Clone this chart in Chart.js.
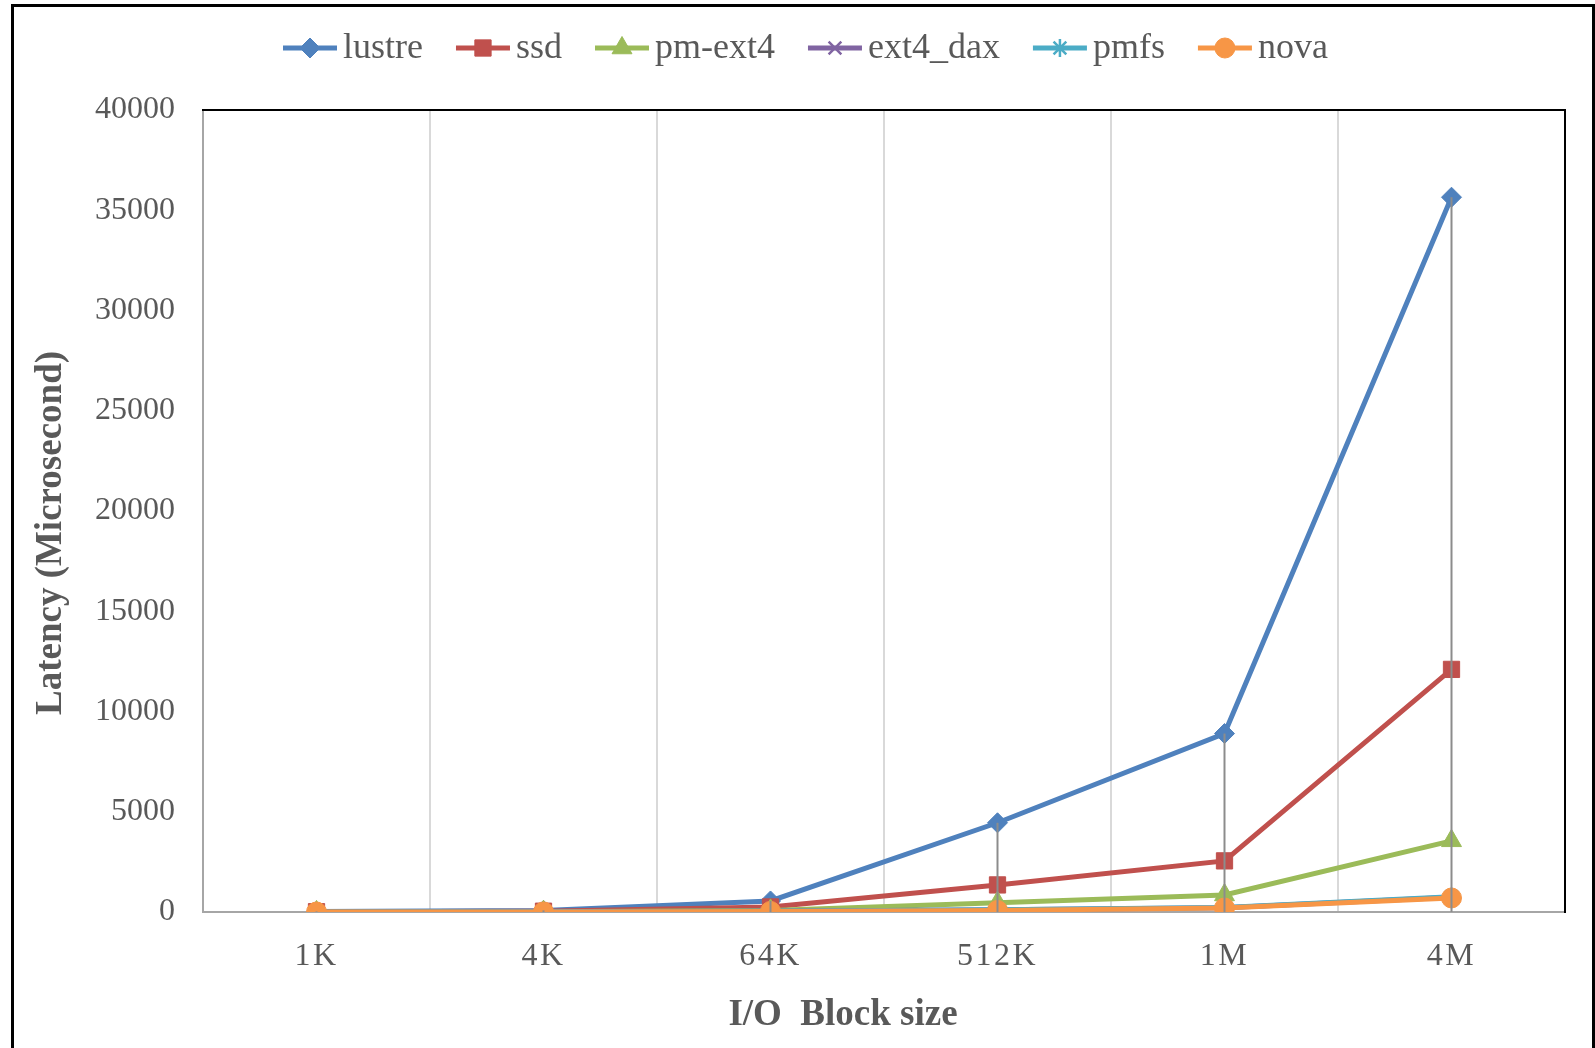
<!DOCTYPE html>
<html>
<head>
<meta charset="utf-8">
<script src="https://cdn.jsdelivr.net/npm/chart.js@4.4.1/dist/chart.umd.min.js"></script>
<style>
  html, body { margin: 0; padding: 0; background: #ffffff; }
  #wrap { width: 1595px; height: 1048px; position: relative; }
</style>
</head>
<body>
<div id="wrap"><canvas id="c" width="1595" height="1048"></canvas></div>
<script>
// Block sizes on the x axis
const categories = ['1K', '4K', '64K', '512K', '1M', '4M'];

// Latency (microseconds) per file system
const lustre  = [30, 80, 550, 4450, 8900, 35650];
const ssd     = [15, 40, 250, 1350, 2550, 12100];
const pmExt4  = [5, 12, 80, 465, 850, 3550];
const ext4Dax = [3, 8, 40, 110, 210, 740];
const pmfs    = [3, 8, 40, 110, 220, 760];
const nova    = [2, 6, 30, 80, 200, 700];

// Y axis tick values
const yTicks = [0, 5000, 10000, 15000, 20000, 25000, 30000, 35000, 40000];

const seriesNames = ['lustre', 'ssd', 'pm-ext4', 'ext4_dax', 'pmfs', 'nova'];
const seriesData = [lustre, ssd, pmExt4, ext4Dax, pmfs, nova];
const seriesColors = ['#4F81BD', '#C0504D', '#9BBB59', '#8064A2', '#4BACC6', '#F79646'];
const seriesMarkers = ['rectRot', 'rect', 'triangle', 'crossRot', 'star', 'circle'];
const seriesRadius = [10, 11.5, 11.5, 9, 9, 10];

const TEXT = '#595959';
const SERIF = '"Liberation Serif", "Times New Roman", serif';

const datasets = seriesNames.map((name, i) => ({
  label: name,
  data: seriesData[i],
  borderColor: seriesColors[i],
  backgroundColor: seriesColors[i],
  pointBackgroundColor: seriesColors[i],
  pointBorderColor: seriesColors[i],
  pointBorderWidth: (seriesMarkers[i] === 'crossRot' || seriesMarkers[i] === 'star') ? 2.5 : 1,
  pointStyle: seriesMarkers[i],
  pointRadius: seriesRadius[i],
  borderWidth: 5,
  tension: 0,
  order: seriesNames.length - i   // later series are painted on top
}));

const drawPoint = (Chart.helpers && Chart.helpers.drawPoint) ? Chart.helpers.drawPoint : null;

// Outer frame, white background, black top/right plot edges
const framePlugin = {
  id: 'frame',
  beforeDraw(chart) {
    const ctx = chart.ctx;
    ctx.save();
    ctx.fillStyle = '#ffffff';
    ctx.fillRect(0, 0, chart.width, chart.height);
    ctx.strokeStyle = '#000000';
    ctx.lineWidth = 3;
    ctx.strokeRect(12.5, 5.5, 1581, 1100);
    ctx.restore();
  },
  beforeDatasetsDraw(chart) {
    const a = chart.chartArea;
    const ctx = chart.ctx;
    ctx.save();
    ctx.strokeStyle = '#000000';
    ctx.lineWidth = 2;
    ctx.beginPath();
    ctx.moveTo(a.left - 1, a.top);
    ctx.lineTo(a.right, a.top);
    ctx.lineTo(a.right, a.bottom + 1);
    ctx.stroke();
    ctx.restore();
  }
};

// Slightly spaced lettering for the category labels
const spacedLabelsPlugin = {
  id: 'spacedLabels',
  afterUpdate(chart) {
    const xs = chart.scales.x;
    if (!xs || xs._spaced) return;
    const base = Object.getPrototypeOf(xs).drawLabels;
    xs.drawLabels = function (area) {
      const ctx = this.ctx;
      const prev = ctx.letterSpacing;
      if ('letterSpacing' in ctx) ctx.letterSpacing = '2.5px';
      base.call(this, area);
      if ('letterSpacing' in ctx) ctx.letterSpacing = prev || '0px';
    };
    xs._spaced = true;
  }
};

// Drop lines from the highest point of each category to the axis
const dropLinesPlugin = {
  id: 'dropLines',
  afterDatasetsDraw(chart) {
    const xs = chart.scales.x, ys = chart.scales.y;
    const ctx = chart.ctx;
    ctx.save();
    ctx.strokeStyle = '#8C8C8C';
    ctx.lineWidth = 2;
    categories.forEach((c, j) => {
      const top = Math.max(...seriesData.map(s => s[j]));
      const x = xs.getPixelForValue(j);
      ctx.beginPath();
      ctx.moveTo(x, ys.getPixelForValue(top));
      ctx.lineTo(x, ys.getPixelForValue(0));
      ctx.stroke();
    });
    ctx.restore();
  }
};

// Legend row and axis titles
const annotatePlugin = {
  id: 'annotate',
  afterDraw(chart) {
    const ctx = chart.ctx;
    ctx.save();
    ctx.font = '36px ' + SERIF;
    ctx.textBaseline = 'middle';
    ctx.textAlign = 'left';
    let x = 283;
    const y = 48;
    seriesNames.forEach((name, i) => {
      ctx.strokeStyle = seriesColors[i];
      ctx.lineWidth = 5;
      ctx.beginPath();
      ctx.moveTo(x, y);
      ctx.lineTo(x + 54, y);
      ctx.stroke();
      if (drawPoint) {
        ctx.fillStyle = seriesColors[i];
        ctx.strokeStyle = seriesColors[i];
        ctx.lineWidth = datasets[i].pointBorderWidth;
        drawPoint(ctx, { pointStyle: seriesMarkers[i], radius: seriesRadius[i], rotation: 0, borderWidth: datasets[i].pointBorderWidth }, x + 27, y);
      }
      ctx.fillStyle = TEXT;
      ctx.fillText(name, x + 60, y + 1);
      x += 60 + ctx.measureText(name).width + 33;
    });

    ctx.fillStyle = TEXT;
    ctx.font = 'bold 37px ' + SERIF;
    ctx.textAlign = 'center';
    ctx.textBaseline = 'middle';
    ctx.fillText('I/O  Block size', 843, 1015);
    ctx.translate(51, 533);
    ctx.rotate(-Math.PI / 2);
    ctx.fillText('Latency (Microsecond)', 0, 0);
    ctx.restore();
  }
};

new Chart(document.getElementById('c'), {
  type: 'line',
  data: { labels: categories, datasets },
  options: {
    responsive: false,
    devicePixelRatio: 1,
    animation: false,
    layout: { padding: { left: 0, top: 110, right: 30, bottom: 0 } },
    plugins: { legend: { display: false }, tooltip: { enabled: false } },
    scales: {
      x: {
        type: 'category',
        offset: true,
        grid: { offset: true, color: '#D9D9D9', lineWidth: 2, drawTicks: false },
        border: { color: '#A6A6A6', width: 2 },
        ticks: { font: { family: SERIF, size: 32 }, color: TEXT, padding: 25, maxRotation: 0 },
        afterFit(s) { s.height = 136; }
      },
      y: {
        min: 0,
        max: 40000,
        grid: { display: false, drawTicks: false },
        border: { color: '#A6A6A6', width: 2 },
        ticks: {
          font: { family: SERIF, size: 32 },
          color: TEXT,
          padding: 28,
          callback: v => String(v)
        },
        afterBuildTicks(s) { s.ticks = yTicks.map(v => ({ value: v })); },
        afterFit(s) { s.width = 203; }
      }
    }
  },
  plugins: [framePlugin, spacedLabelsPlugin, dropLinesPlugin, annotatePlugin]
});
</script>
</body>
</html>
